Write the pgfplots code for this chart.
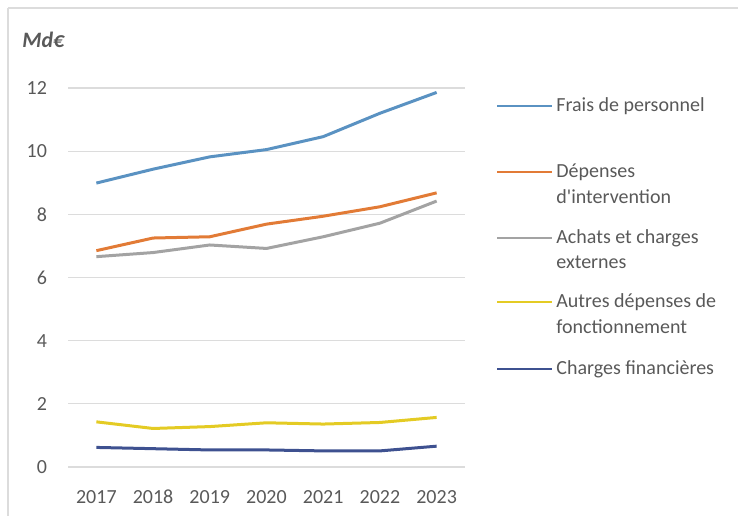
\documentclass[border=0pt]{standalone}
\usepackage{pgfplots}
\pgfplotsset{compat=1.18}
\usepackage{fontspec}
\setmainfont{Carlito}
\definecolor{cBlue}{HTML}{5A92C2}
\definecolor{cOrange}{HTML}{E27B36}
\definecolor{cGray}{HTML}{A3A3A3}
\definecolor{cYellow}{HTML}{E4CB24}
\definecolor{cNavy}{HTML}{3E5190}
\definecolor{cText}{HTML}{595959}
\definecolor{cGrid}{HTML}{DCDCDC}
\begin{document}
\begin{tikzpicture}[x=0.5pt,y=0.5pt]
\path[use as bounding box] (0,0) rectangle (738,516);
% frame lines
\draw[cGrid, line width=0.6pt] (8,508) -- (738,508);
\draw[cGrid, line width=0.6pt] (8,508) -- (8,0);
% unit
\node[anchor=west, text=cText, font=\fontsize{11}{13}\selectfont\bfseries\itshape, inner sep=0pt] at (22,476) {Md€};
\begin{axis}[
  at={(34pt,24.5pt)}, anchor=south west,
  scale only axis, width=198.5pt, height=189.5pt,
  xmin=2016.5, xmax=2023.5, ymin=0, ymax=12,
  xtick={2017,...,2023}, ytick={0,2,...,12},
  axis line style={draw=none},
  major tick length=0pt,
  ymajorgrids, grid style={cGrid, line width=0.6pt},
  /pgf/number format/assume math mode=true,
  x tick label style={/pgf/number format/1000 sep={}, yshift=-8pt},
  yticklabel style={xshift=-7pt},
  tick label style={text=cText, font=\fontsize{10}{12}\selectfont},
  clip=false,
]
\addplot[cBlue, line width=1.5pt] coordinates {(2017,8.99) (2018,9.43) (2019,9.82) (2020,10.05) (2021,10.46) (2022,11.2) (2023,11.86)};
\addplot[cOrange, line width=1.5pt] coordinates {(2017,6.85) (2018,7.25) (2019,7.29) (2020,7.69) (2021,7.94) (2022,8.24) (2023,8.68)};
\addplot[cGray, line width=1.5pt] coordinates {(2017,6.66) (2018,6.79) (2019,7.03) (2020,6.92) (2021,7.29) (2022,7.72) (2023,8.42)};
\addplot[cYellow, line width=1.5pt] coordinates {(2017,1.43) (2018,1.22) (2019,1.28) (2020,1.40) (2021,1.36) (2022,1.41) (2023,1.57)};
\addplot[cNavy, line width=1.5pt] coordinates {(2017,0.62) (2018,0.58) (2019,0.54) (2020,0.54) (2021,0.51) (2022,0.51) (2023,0.66)};
\end{axis}
% legend
\begin{scope}[every node/.style={anchor=west, text=cText, font=\fontsize{10}{12}\selectfont, inner sep=0pt}]
\draw[cBlue, line width=1.3pt] (497,410) -- (552,410);
\node at (556,410) {Frais de personnel};
\draw[cOrange, line width=1.3pt] (497,344) -- (552,344);
\node at (556,344) {Dépenses};
\node at (556,319) {d\textquotesingle intervention};
\draw[cGray, line width=1.3pt] (497,278) -- (552,278);
\node at (556,278) {Achats et charges};
\node at (556,254) {externes};
\draw[cYellow, line width=1.3pt] (497,214) -- (552,214);
\node at (556,214) {Autres dépenses de};
\node at (556,189) {fonctionnement};
\draw[cNavy, line width=1.3pt] (497,147) -- (552,147);
\node at (556,147) {Charges financières};
\end{scope}
\end{tikzpicture}
\end{document}
